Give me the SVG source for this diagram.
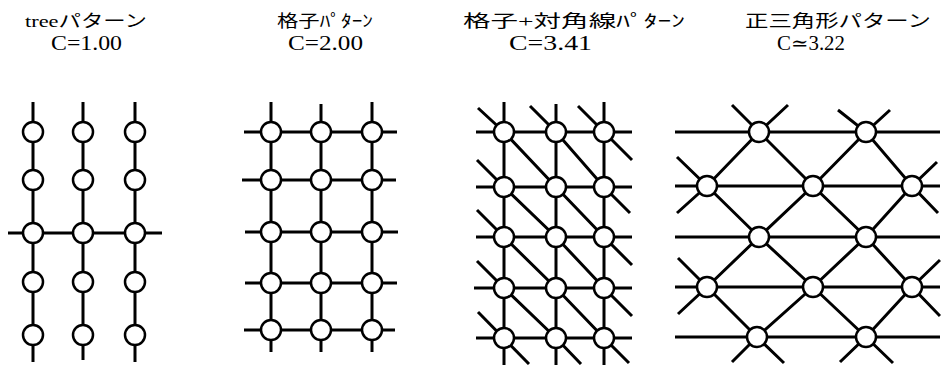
<svg xmlns="http://www.w3.org/2000/svg" width="941" height="365" viewBox="0 0 941 365">
<style>
.bg{fill:#fff}
.ln{stroke:#000;stroke-width:3;fill:none;stroke-linecap:butt}
.nd{fill:#fff;stroke:#000;stroke-width:2.5}
.tt{font-family:"Liberation Serif","Noto Sans CJK JP",serif;font-size:17px;fill:#000}
.cv{font-family:"Liberation Serif","DejaVu Serif",serif;font-size:20px;fill:#000}
</style>
<defs><circle id="n" r="10" class="nd"/></defs>
<rect class="bg" width="941" height="365"/>
<g id="titles">
<text class="tt" x="25" y="27" textLength="122" lengthAdjust="spacingAndGlyphs">treeパターン</text>
<text class="cv" x="51" y="50" textLength="71" lengthAdjust="spacingAndGlyphs">C=1.00</text>
<text class="tt" x="277" y="27" textLength="96" lengthAdjust="spacingAndGlyphs">格子ﾊﾟﾀｰﾝ</text>
<text class="cv" x="288" y="50" textLength="75" lengthAdjust="spacingAndGlyphs">C=2.00</text>
<text class="tt" x="463" y="27" textLength="222" lengthAdjust="spacingAndGlyphs">格子+対角線ﾊﾟﾀｰﾝ</text>
<text class="cv" x="509" y="50" textLength="83" lengthAdjust="spacingAndGlyphs">C=3.41</text>
<text class="tt" x="745" y="27" textLength="186" lengthAdjust="spacingAndGlyphs">正三角形パターン</text>
<text class="cv" x="777" y="50" textLength="68" lengthAdjust="spacingAndGlyphs">C≃3.22</text>
</g>
<g id="connectors">
<line class="ln" x1="33" y1="102" x2="33" y2="362"/>
<line class="ln" x1="83" y1="102" x2="83" y2="360"/>
<line class="ln" x1="135" y1="102" x2="135" y2="362"/>
<line class="ln" x1="8" y1="233" x2="162" y2="233"/>
<line class="ln" x1="271" y1="102" x2="271" y2="352"/>
<line class="ln" x1="321" y1="104" x2="321" y2="352"/>
<line class="ln" x1="372" y1="102" x2="372" y2="352"/>
<line class="ln" x1="244" y1="132" x2="397" y2="132"/>
<line class="ln" x1="242" y1="180" x2="396" y2="180"/>
<line class="ln" x1="245" y1="232" x2="398" y2="232"/>
<line class="ln" x1="245" y1="283" x2="397" y2="283"/>
<line class="ln" x1="244" y1="330" x2="395" y2="330"/>
<line class="ln" x1="504" y1="102" x2="504" y2="365"/>
<line class="ln" x1="556" y1="104" x2="556" y2="365"/>
<line class="ln" x1="604" y1="102" x2="604" y2="365"/>
<line class="ln" x1="476" y1="132" x2="632" y2="132"/>
<line class="ln" x1="476" y1="187" x2="632" y2="187"/>
<line class="ln" x1="476" y1="237" x2="632" y2="237"/>
<line class="ln" x1="474" y1="288" x2="632" y2="288"/>
<line class="ln" x1="476" y1="338" x2="632" y2="338"/>
<line class="ln" x1="578" y1="106" x2="632" y2="160"/>
<polyline class="ln" points="530,106 556,132 604,187 630,213"/>
<polyline class="ln" points="478,108 504,132 556,187 604,237 632,265"/>
<polyline class="ln" points="477,160 504,187 556,237 604,288 632,316"/>
<polyline class="ln" points="477,210 504,237 556,288 604,338 629,363"/>
<polyline class="ln" points="477,261 504,288 556,338 581,364"/>
<line class="ln" x1="478" y1="312" x2="529" y2="364"/>
<line class="ln" x1="675" y1="132" x2="940" y2="132"/>
<line class="ln" x1="675" y1="186" x2="940" y2="186"/>
<line class="ln" x1="675" y1="237" x2="940" y2="237"/>
<line class="ln" x1="675" y1="287" x2="940" y2="287"/>
<line class="ln" x1="675" y1="337" x2="940" y2="337"/>
<polyline class="ln" points="732,105 759,132 813,186 866,237 912,287 940,316"/>
<polyline class="ln" points="677,157 707,186 759,237 813,287 866,337 893,363"/>
<polyline class="ln" points="678,258 707,287 757,337 784,363"/>
<polyline class="ln" points="838,110 866,132 912,186 938,213"/>
<polyline class="ln" points="788,105 759,132 707,186 677,213"/>
<polyline class="ln" points="890,110 866,132 813,186 759,237 707,287 678,314"/>
<polyline class="ln" points="937,162 912,186 866,237 813,287 757,337 732,362"/>
<polyline class="ln" points="940,260 912,287 866,337 840,362"/>
</g>
<g id="tree-nodes">
<g id="t00"><use href="#n" x="33" y="132"/></g>
<g id="t01"><use href="#n" x="33" y="180"/></g>
<g id="t02"><use href="#n" x="33" y="233"/></g>
<g id="t03"><use href="#n" x="33" y="282"/></g>
<g id="t04"><use href="#n" x="33" y="335"/></g>
<g id="t10"><use href="#n" x="83" y="132"/></g>
<g id="t11"><use href="#n" x="83" y="180"/></g>
<g id="t12"><use href="#n" x="83" y="233"/></g>
<g id="t13"><use href="#n" x="83" y="282"/></g>
<g id="t14"><use href="#n" x="83" y="335"/></g>
<g id="t20"><use href="#n" x="135" y="132"/></g>
<g id="t21"><use href="#n" x="135" y="180"/></g>
<g id="t22"><use href="#n" x="135" y="233"/></g>
<g id="t23"><use href="#n" x="135" y="282"/></g>
<g id="t24"><use href="#n" x="135" y="335"/></g>
</g>
<g id="grid-nodes">
<g id="g00"><use href="#n" x="271" y="132"/></g>
<g id="g01"><use href="#n" x="271" y="180"/></g>
<g id="g02"><use href="#n" x="271" y="232"/></g>
<g id="g03"><use href="#n" x="271" y="283"/></g>
<g id="g04"><use href="#n" x="271" y="330"/></g>
<g id="g10"><use href="#n" x="321" y="132"/></g>
<g id="g11"><use href="#n" x="321" y="180"/></g>
<g id="g12"><use href="#n" x="321" y="232"/></g>
<g id="g13"><use href="#n" x="321" y="283"/></g>
<g id="g14"><use href="#n" x="321" y="330"/></g>
<g id="g20"><use href="#n" x="372" y="132"/></g>
<g id="g21"><use href="#n" x="372" y="180"/></g>
<g id="g22"><use href="#n" x="372" y="232"/></g>
<g id="g23"><use href="#n" x="372" y="283"/></g>
<g id="g24"><use href="#n" x="372" y="330"/></g>
</g>
<g id="diag-nodes">
<g id="d00"><use href="#n" x="504" y="132"/></g>
<g id="d01"><use href="#n" x="504" y="187"/></g>
<g id="d02"><use href="#n" x="504" y="237"/></g>
<g id="d03"><use href="#n" x="504" y="288"/></g>
<g id="d04"><use href="#n" x="504" y="338"/></g>
<g id="d10"><use href="#n" x="556" y="132"/></g>
<g id="d11"><use href="#n" x="556" y="187"/></g>
<g id="d12"><use href="#n" x="556" y="237"/></g>
<g id="d13"><use href="#n" x="556" y="288"/></g>
<g id="d14"><use href="#n" x="556" y="338"/></g>
<g id="d20"><use href="#n" x="604" y="132"/></g>
<g id="d21"><use href="#n" x="604" y="187"/></g>
<g id="d22"><use href="#n" x="604" y="237"/></g>
<g id="d23"><use href="#n" x="604" y="288"/></g>
<g id="d24"><use href="#n" x="604" y="338"/></g>
</g>
<g id="tri-nodes">
<g id="r0a"><use href="#n" x="759" y="132"/></g>
<g id="r0b"><use href="#n" x="866" y="132"/></g>
<g id="r1a"><use href="#n" x="707" y="186"/></g>
<g id="r1b"><use href="#n" x="813" y="186"/></g>
<g id="r1c"><use href="#n" x="912" y="186"/></g>
<g id="r2a"><use href="#n" x="759" y="237"/></g>
<g id="r2b"><use href="#n" x="866" y="237"/></g>
<g id="r3a"><use href="#n" x="707" y="287"/></g>
<g id="r3b"><use href="#n" x="813" y="287"/></g>
<g id="r3c"><use href="#n" x="912" y="287"/></g>
<g id="r4a"><use href="#n" x="757" y="337"/></g>
<g id="r4b"><use href="#n" x="866" y="337"/></g>
</g>
</svg>
